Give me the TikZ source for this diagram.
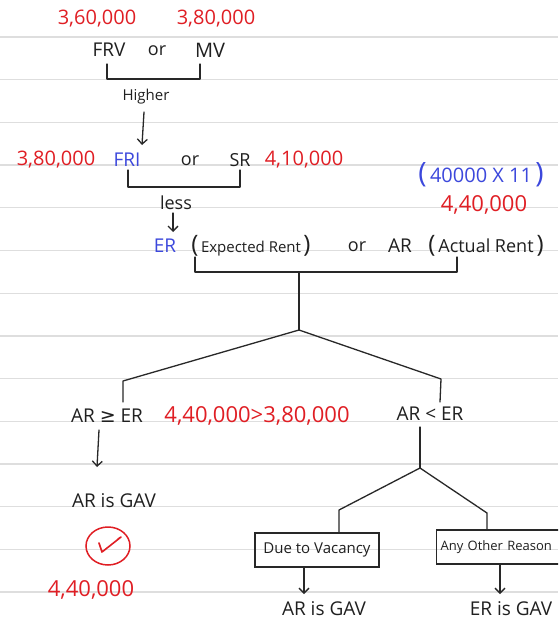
\documentclass[tikz,border=0pt]{standalone}
\usepackage{fontspec}
\setmainfont{Open Sans}
\newfontfamily\dvsymb{DejaVu Sans}
\usetikzlibrary{arrows.meta}
\definecolor{inkc}{RGB}{32,32,32}
\definecolor{linec}{RGB}{40,40,40}
\definecolor{rulec}{RGB}{222,222,222}
\definecolor{hwred}{RGB}{224,30,36}
\definecolor{hwblue}{RGB}{60,72,220}
\begin{document}
\begin{tikzpicture}[x=1pt, y=-1pt,
  rule/.style={draw=rulec, line width=1.3pt},
  ln/.style={draw=linec, line width=1.3pt, line cap=round, line join=round},
  arr/.style={ln, -{Straight Barb[length=5pt, width=10pt]}},
  sz/.style={font=\fontsize{#1}{#1}\selectfont},
  ink/.style={inner sep=0pt, text=inkc},
  rnum/.style={inner sep=0pt, text=hwred},
  bnum/.style={inner sep=0pt, text=hwblue},
  boxed/.style={draw=linec, line width=1.3pt, inner sep=0pt, text=inkc,
                minimum height=34pt, font=\fontsize{15}{15}\selectfont}
]
\useasboundingbox (0,0) rectangle (558,626);
\fill[white] (0,0) rectangle (558,626);
\clip (0,0) rectangle (558,626);

% ruled paper
\foreach \i in {0,...,13}
  \draw[rule] (0,{37+42.7*\i}) -- (558,{37+42.7*\i});

% ---- FRV or MV ----
\node[rnum, sz=20] (r360)  at (97,19)  {3,60,000};
\node[rnum, sz=20] (r380a) at (216,19) {3,80,000};
\node[ink, sz=19] (frv) at (109,50) {FRV};
\node[ink, sz=18] (or1) at (157,51) {or};
\node[ink, sz=20] (mv)  at (210,50) {MV};
\coordinate (k1l)  at (107,64);
\coordinate (k1lb) at (107,79);
\coordinate (k1rb) at (200,79);
\coordinate (k1r)  at (200,64);
\draw[ln] (k1l) -- (k1lb) -- (k1rb) -- (k1r);
\node[ink, sz=15] (higher) at (146,97) {Higher};
\coordinate (a1s) at (144,112);
\coordinate (a1e) at (142,145);
\draw[arr] (a1s) -- (a1e);

% ---- FRI or SR ----
\node[rnum, sz=20] (r380b) at (56,160)  {3,80,000};
\node[bnum, sz=19] (fri)   at (127,160) {FRI};
\node[ink, sz=18]  (or2)   at (190,161) {or};
\node[ink, sz=18]  (sr)    at (240,160) {SR};
\node[rnum, sz=20] (r410)  at (304,160) {4,10,000};
\coordinate (k2l)  at (128,170);
\coordinate (k2lb) at (128,187);
\coordinate (k2rb) at (240,187);
\coordinate (k2r)  at (240,170);
\draw[ln] (k2l) -- (k2lb) -- (k2rb) -- (k2r);
\node[ink, sz=18] (less) at (176,203) {less};
\coordinate (a2s) at (173,213);
\coordinate (a2e) at (173,232);
\draw[arr] (a2s) -- (a2e);

\node[bnum, sz=20] (calc) at (481,175)
  {{\fontsize{28}{28}\selectfont(}\,40000 X 11\,{\fontsize{28}{28}\selectfont)}};
\node[rnum, sz=22] (r440a) at (484,205) {4,40,000};

% ---- ER or AR ----
\node[bnum, sz=19] (er)  at (165,246) {ER};
\node[ink, sz=15]  (exp) at (251,246)
  {{\fontsize{24}{24}\selectfont(}\,Expected Rent\,{\fontsize{24}{24}\selectfont)}};
\node[ink, sz=18]  (or3) at (357,247) {or};
\node[ink, sz=19]  (ar)  at (400,246) {AR};
\node[ink, sz=18]  (act) at (486,246)
  {{\fontsize{24}{24}\selectfont(}\,Actual Rent\,{\fontsize{24}{24}\selectfont)}};
\coordinate (k3l)  at (195,257);
\coordinate (k3lb) at (195,272);
\coordinate (k3rb) at (457,272);
\coordinate (k3r)  at (457,257);
\draw[ln] (k3l) -- (k3lb) -- (k3rb) -- (k3r);
\coordinate (stem) at (299,272);
\coordinate (apex) at (299,330);
\coordinate (bl)   at (123,381);
\coordinate (blb)  at (123,402);
\coordinate (br)   at (441,379);
\coordinate (brb)  at (440,402);
\draw[ln] (stem) -- (apex);
\draw[ln] (blb) -- (bl) -- (apex) -- (br) -- (brb);

% ---- comparison ----
\node[ink, sz=19]  (ge)  at (107,416) {AR {\dvsymb ≥} ER};
\node[rnum, sz=22] (cmp) at (257,416) {4,40,000>3,80,000};
\node[ink, sz=19]  (lt)  at (430,414) {AR < ER};

% left outcome
\coordinate (a3s) at (99,430);
\coordinate (a3e) at (97,467);
\draw[arr] (a3s) -- (a3e);
\node[ink, sz=19] (argav1) at (114,501) {AR is GAV};
\draw[draw=hwred, line width=1.5pt] (108,546) ellipse [x radius=22, y radius=19];
\draw[draw=hwred, line width=1.6pt, line cap=round, line join=round]
  (99,543) -- (102,552) -- (121,537) -- (118,539);
\node[rnum, sz=22] (r440b) at (91,590) {4,40,000};

% right outcome
\coordinate (s2)    at (420,427);
\coordinate (apex2) at (420,468);
\coordinate (cl)    at (339,510);
\coordinate (cr)    at (487,513);
\node[boxed, minimum width=124pt] (due) at (317,550) {Due to Vacancy};
\node[boxed, minimum height=34pt, anchor=west,
      font=\fontsize{13}{13}\selectfont, text width=146pt, align=left]
  (other) at (436,547) {\hspace*{4pt}Any Other Reason};
\draw[ln] (s2) -- (apex2);
\draw[ln] (due.north -| cl) -- (cl) -- (apex2) -- (cr) -- (other.north -| cr);
\coordinate (d1) at (304,594);
\coordinate (d2) at (500,594);
\draw[arr] (due.south -| d1) -- (d1);
\draw[arr] (other.south -| d2) -- (d2);
\node[ink, sz=19] (argav2) at (324,609) {AR is GAV};
\node[ink, sz=19] (ergav)  at (511,609) {ER is GAV};
\end{tikzpicture}
\end{document}
